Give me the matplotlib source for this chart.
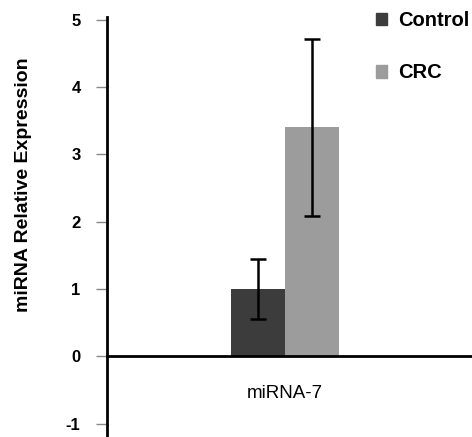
import numpy as np
import matplotlib
matplotlib.use("Agg")
import matplotlib.pyplot as plt
from matplotlib.patches import Patch

categories = ["miRNA-7"]
groups = ["Control", "CRC"]
values = [1.0, 3.40]
errors = [0.45, 1.31]
colors = ["#3c3c3c", "#9c9c9c"]

plt.rcParams["font.family"] = ["Liberation Sans", "DejaVu Sans"]

W, H = 472, 437
fig = plt.figure(figsize=(W / 100, H / 100), dpi=100)
ax = fig.add_axes([107 / W, 0.0, 1 - 107 / W, 1 - 17 / H])

bw = 54
x0 = 285 - 107  # group centre in pixels from axis
xs = [x0 - bw / 2, x0 + bw / 2]
ax.bar(xs, values, width=bw, color=colors, yerr=errors,
       error_kw=dict(ecolor="black", elinewidth=1.8, capsize=5.5, capthick=1.8),
       zorder=2)

ax.set_xlim(0, W - 107)
ax.set_ylim(-1.2, 5.04)

ax.spines["top"].set_visible(False)
ax.spines["right"].set_visible(False)
ax.spines["bottom"].set_position(("data", 0))
ax.spines["left"].set_linewidth(2)
ax.spines["bottom"].set_linewidth(2)

ax.set_yticks(np.arange(-1, 6, 1))
ax.set_yticklabels([str(v) for v in range(-1, 6)], fontsize=12, fontweight="bold")
ax.tick_params(axis="y", length=8, width=1, color="#888888", pad=11)

ax.set_xticks([x0])
ax.set_xticklabels(categories, fontsize=13.5)
ax.tick_params(axis="x", length=0, pad=21)

ax.set_ylabel("miRNA Relative Expression", fontsize=14, fontweight="bold")
ax.yaxis.set_label_coords(-0.205, 0.6)

handles = [Patch(color=c) for c in colors]
fig.legend(handles, groups, loc="upper left", bbox_to_anchor=(376 / W, 1 - 11 / H),
           frameon=False, handlelength=0.55, handleheight=0.6, handletextpad=0.55,
           labelspacing=1.65, borderpad=0, borderaxespad=0,
           prop=dict(size=14.5, weight="bold"))

fig.savefig("out.png", dpi=100)
